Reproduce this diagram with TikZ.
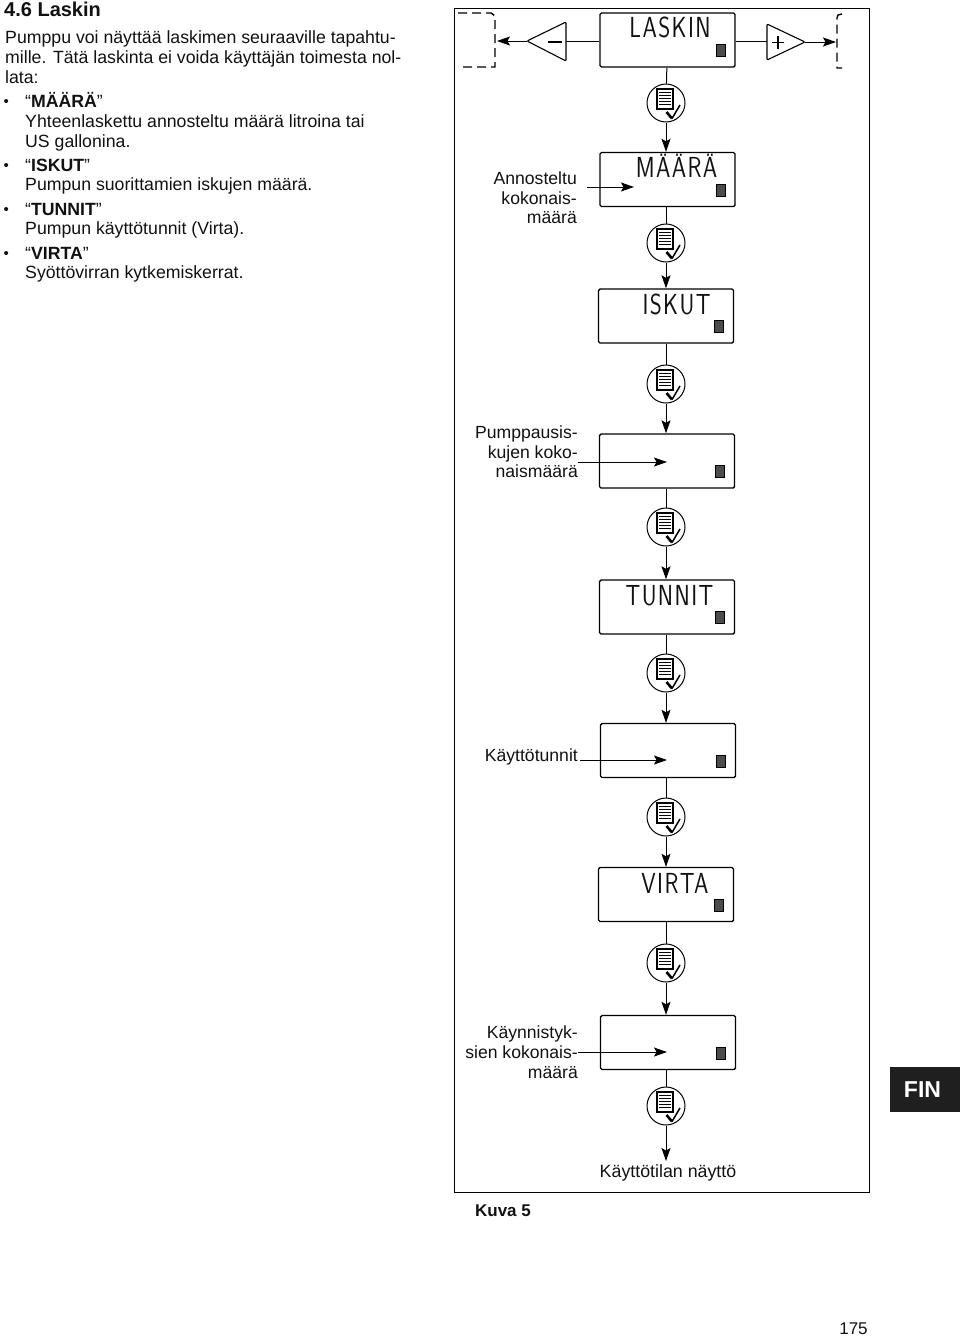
\documentclass[tikz,border=0pt]{standalone}
\usepackage{fontspec}
\setmainfont{Liberation Sans}
\newfontfamily\lcdfont[LetterSpace=6]{Latin Modern Sans}
\usetikzlibrary{arrows.meta}
\definecolor{inkc}{HTML}{111111}
\tikzset{ disp/.style = { draw
                       , line width = 1.4pt
                       , rounded corners = 1.5pt
                       , minimum width  = 135pt
                       , minimum height = 54pt
                       , inner sep = 0pt
                       },
            lcd/.style = { font = \lcdfont\fontsize{20}{20}\selectfont
                       , inner sep = 0pt
                       , anchor = base
                       , xscale = 1.15
                       , yscale = 1.45
                       , transform shape
                       },
            lcdmark/.style = { draw = black
                       , fill = black!70
                       , line width = 0.6pt
                       , inner sep = 0pt
                       , minimum width  = 9pt
                       , minimum height = 12pt
                       },
            menu/.style = { circle
                       , draw
                       , line width = 1pt
                       , inner sep = 0pt
                       , minimum size = 38pt
                       },
            arr/.style = { line width = 1pt
                       , -{Stealth[length=13pt,width=9pt,inset=2.5pt]}
                       },
            lab/.style = { align = right
                       , anchor = east
                       , inner sep = 0pt
                       , font = \fontsize{17.6}{19.7}\selectfont
                       },
            body/.style = { anchor = base west
                       , inner sep = 0pt
                       , font = \fontsize{17.7}{20}\selectfont
                       },
            pics/doccheck/.style = { code = {
                \draw[line width = 1.1pt, fill = white] (-9,-14) rectangle (7,6);
                \foreach \r in {-10.5,-7.5,-4.5,-1.5,1.5}
                    \draw[line width = 0.8pt] (-7,\r) -- (5,\r);
                \draw[line width = 2.6pt] (0.5,9) -- (6,15.5);
                \draw[line width = 1.5pt] (6,15.5) -- (14,2);
            } }
          }
\begin{document}
\begin{tikzpicture}[x=1pt,y=-1pt,text=inkc]
    \useasboundingbox (0,0) rectangle (960,1336);
    % left column
    \node[anchor=base west, inner sep=0pt, font=\fontsize{20}{22}\selectfont\bfseries] (title) at (4,16) {4.6 Laskin};
    \foreach \nm/\py/\px/\tx in {
        a/43/5/{Pumppu voi näyttää laskimen seuraaville tapahtu-},
        b/63/5/{mille. Tätä laskinta ei voida käyttäjän toimesta nol-},
        c/83/5/{lata:},
        d/107/25/{“\textbf{MÄÄRÄ}”},
        e/127/25/{Yhteenlaskettu annosteltu määrä litroina tai},
        f/147/25/{US gallonina.},
        g/171/25/{“\textbf{ISKUT}”},
        h/190/25/{Pumpun suorittamien iskujen määrä.},
        i/215/25/{“\textbf{TUNNIT}”},
        j/234/25/{Pumpun käyttötunnit (Virta).},
        k/259/25/{“\textbf{VIRTA}”},
        l/278/25/{Syöttövirran kytkemiskerrat.}}
        \node[body] (line\nm) at (\px,\py) {\tx};
    \foreach \nm/\py in {d/106,g/170,i/214,k/258}
        \node[body, font=\fontsize{15}{16}\selectfont] (dot\nm) at (3.5,\py) {•};
    % frame
    \node[draw, line width=1pt, minimum width=415pt, minimum height=1184pt, inner sep=0pt] (frame) at (661.5,600) {};
    % displays
    \foreach \nm/\cx/\cy in {1/667.5/40, 2/667.5/179.5, 3/666/316, 4/667/461, 5/667/607, 6/668/750.5, 7/666/894.5, 8/668/1042.5} {
        \node[disp] (d\nm) at (\cx,\cy) {};
        \node[lcdmark] (k\nm) at ([xshift=-15pt,yshift=17pt]d\nm.south east) {};
    }
    % display texts
    \node[lcd] (t1) at (670,37) {LASKIN};
    \node[lcd] (t2) at (676.5,177) {MÄÄRÄ};
    \node[lcd] (t3) at (676.5,314) {ISKUT};
    \node[lcd] (t5) at (669.5,605) {TUNNIT};
    \node[lcd] (t7) at (675,893) {VIRTA};
    % menu buttons
    \foreach \nm/\cy in {1/103, 2/243, 3/384, 4/527, 5/673, 6/817, 7/963, 8/1106} {
        \node[menu] (m\nm) at (666,\cy) {};
        \pic at (m\nm) {doccheck};
    }
    \draw[line width=1pt] (d1) -- (m1);
    \foreach \a/\b in {1/2, 2/3, 3/4, 4/5, 5/6, 6/7, 7/8} {
        \draw[arr] (m\a) -- (d\b.north -| m\a);
    }
    \foreach \a in {2,3,4,5,6,7,8} {
        \draw[line width=1pt] (d\a.south -| m\a) -- (m\a);
    }
    \coordinate (endpt) at (666,1161);
    \draw[arr] (m8) -- (endpt);
    % top row
    \coordinate (mtip) at (527,41);
    \draw[line width=1.1pt, rounded corners=1pt] (mtip) -- (566,22) -- (566,61) -- cycle;
    \draw[line width=1.4pt] (548,42) -- (562,42);
    \coordinate (ptip) at (805,42);
    \draw[line width=1.1pt, rounded corners=1pt] (ptip) -- (767,24) -- (767,60) -- cycle;
    \draw[line width=1.4pt] (772,42.5) -- (784,42.5) (778,36) -- (778,49);
    \coordinate (mend) at (566,41);
    \coordinate (pend) at (767,41);
    \draw[line width=1pt] (mend) -- (d1.west |- mend);
    \draw[line width=1pt] (d1.east |- pend) -- (pend);
    \coordinate (lfree) at (497,41);
    \coordinate (rfree) at (836,42);
    \draw[arr] (mtip) -- (lfree);
    \draw[arr] (ptip) -- (rfree);
    \draw[line width=1.4pt, dash pattern=on 9pt off 5pt] (458,13) -- (491,13) -- (495,16) -- (495,67) -- (458,67);
    \draw[line width=1.4pt, dash pattern=on 9pt off 5pt] (842,14) -- (838,15) -- (837,18) -- (837,68) -- (842,68);
    % labels and their arrows
    \node[lab] (l2) at (577,198) {Annosteltu\\kokonais-\\määrä};
    \node[lab] (l4) at (578,452) {Pumppausis-\\kujen koko-\\naismäärä};
    \node[lab] (l6) at (578,757) {Käyttötunnit};
    \node[lab] (l8) at (578,1052) {Käynnistyk-\\sien kokonais-\\määrä};
    \coordinate (p2) at (634,187);
    \coordinate (p4) at (667,462);
    \coordinate (p6) at (667,760);
    \coordinate (p8) at (667,1052);
    \draw[arr] ([shift={(10,-11)}]l2.east) -- (p2);
    \draw[arr] ([shift={(0,10)}]l4.east) -- (p4);
    \draw[arr] ([shift={(2,3)}]l6.east) -- (p6);
    \draw[arr] (l8.east) -- (p8);
    \node[font=\fontsize{17.8}{20}\selectfont, inner sep=0pt] (endlab) at (668,1173) {Käyttötilan näyttö};
    \node[font=\fontsize{17}{20}\selectfont\bfseries, inner sep=0pt] (kuva) at (503,1211) {Kuva 5};
    % page furniture
    \node[fill=black!88, minimum width=70pt, minimum height=45pt, inner sep=0pt, text=white, font=\fontsize{23}{26}\selectfont\bfseries] (fin) at (925,1089.5) {\hspace*{-5pt}FIN};
    \node[font=\fontsize{17}{20}\selectfont, inner sep=0pt] (page) at (853.5,1329) {175};
\end{tikzpicture}
\end{document}
